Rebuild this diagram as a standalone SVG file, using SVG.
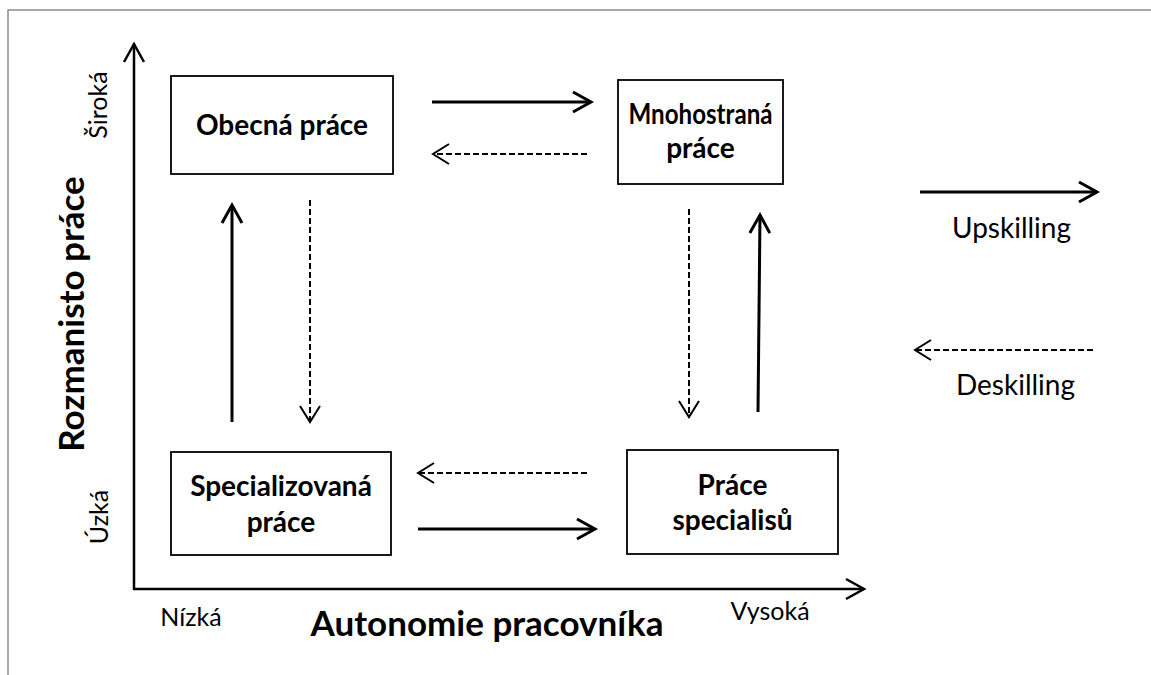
<svg xmlns="http://www.w3.org/2000/svg" width="1151" height="675" viewBox="0 0 1151 675">
<style>
.frame{fill:none;stroke:#8c8c8c;stroke-width:1.5}
.box{fill:#fff;stroke:#000;stroke-width:1.8}
.bt{font-family:Lato,"Open Sans",sans-serif;font-weight:bold;font-size:28px;fill:#000;text-anchor:middle}
.at{font-family:Lato,"Open Sans",sans-serif;font-weight:bold;font-size:35px;fill:#000;text-anchor:middle}
.lt{font-family:Lato,"Open Sans",sans-serif;font-size:25px;fill:#000;text-anchor:middle}
.gt{font-family:Lato,"Open Sans",sans-serif;font-size:28px;fill:#000;text-anchor:middle}
.axis{stroke:#000;stroke-width:2.5;fill:none}
.solid{stroke:#000;stroke-width:3;fill:none}
.dash{stroke:#000;stroke-width:2;fill:none;stroke-dasharray:6 3}
</style>
<defs>
<marker id="ms" markerUnits="userSpaceOnUse" markerWidth="24" markerHeight="26" refX="19" refY="11" orient="auto" overflow="visible">
<path d="M1,1 L19,11 L1,21" fill="none" stroke="#000" stroke-width="3"/>
</marker>
<marker id="ma" markerUnits="userSpaceOnUse" markerWidth="24" markerHeight="26" refX="19" refY="11" orient="auto" overflow="visible">
<path d="M1,1 L19,11 L1,21" fill="none" stroke="#000" stroke-width="2.5"/>
</marker>
<marker id="md" markerUnits="userSpaceOnUse" markerWidth="22" markerHeight="24" refX="17" refY="10" orient="auto" overflow="visible">
<path d="M1,0 L17,10 L1,20" fill="none" stroke="#000" stroke-width="2" stroke-dasharray="none"/>
</marker>
</defs>
<rect width="1151" height="675" fill="#fff"/>
<path class="frame" d="M8,675 L8,10 L1151,10"/>

<g id="axes">
<line class="axis" x1="134" y1="590" x2="134" y2="44" marker-end="url(#ma)"/>
<line class="axis" x1="133" y1="589" x2="864" y2="589" marker-end="url(#ma)"/>
<text class="at" transform="translate(84,314) rotate(-90)">Rozmanisto práce</text>
<text class="at" x="487" y="636">Autonomie pracovníka</text>
<text class="lt" transform="translate(107,105) rotate(-90)">Široká</text>
<text class="lt" transform="translate(108,517) rotate(-90)">Úzká</text>
<text class="lt" x="191" y="626">Nízká</text>
<text class="lt" x="770" y="620">Vysoká</text>
</g>

<g id="node-obecna">
<rect class="box" x="171" y="76" width="222" height="98"/>
<text class="bt" x="282" y="135">Obecná práce</text>
</g>
<g id="node-mnohostrana">
<rect class="box" x="618" y="80" width="165" height="104"/>
<text class="bt" x="700.5" y="124" textLength="144" lengthAdjust="spacingAndGlyphs">Mnohostraná</text>
<text class="bt" x="700.5" y="158">práce</text>
</g>
<g id="node-specializovana">
<rect class="box" x="171" y="452" width="220" height="103"/>
<text class="bt" x="281" y="496">Specializovaná</text>
<text class="bt" x="281" y="532">práce</text>
</g>
<g id="node-specialistu">
<rect class="box" x="627" y="450" width="211" height="104"/>
<text class="bt" x="732.5" y="495">Práce</text>
<text class="bt" x="732.5" y="530">specialisů</text>
</g>

<g id="connectors">
<line class="solid" x1="432" y1="102" x2="591" y2="102" marker-end="url(#ms)"/>
<line class="dash" x1="587" y1="154" x2="433" y2="154" marker-end="url(#md)"/>
<line class="solid" x1="232" y1="422" x2="232" y2="205" marker-end="url(#ms)"/>
<line class="dash" x1="310" y1="200" x2="310" y2="422" marker-end="url(#md)"/>
<line class="dash" x1="689" y1="209" x2="689" y2="417" marker-end="url(#md)"/>
<line class="solid" x1="758" y1="412" x2="760" y2="215" marker-end="url(#ms)"/>
<line class="dash" x1="587" y1="473" x2="418" y2="473" marker-end="url(#md)"/>
<line class="solid" x1="418" y1="529" x2="595" y2="529" marker-end="url(#ms)"/>
</g>

<g id="legend">
<line class="solid" x1="920" y1="192" x2="1097" y2="192" marker-end="url(#ms)"/>
<text class="gt" x="1011.5" y="238">Upskilling</text>
<line class="dash" x1="1093" y1="350" x2="915" y2="350" marker-end="url(#md)"/>
<text class="gt" x="1015.5" y="395">Deskilling</text>
</g>
</svg>
